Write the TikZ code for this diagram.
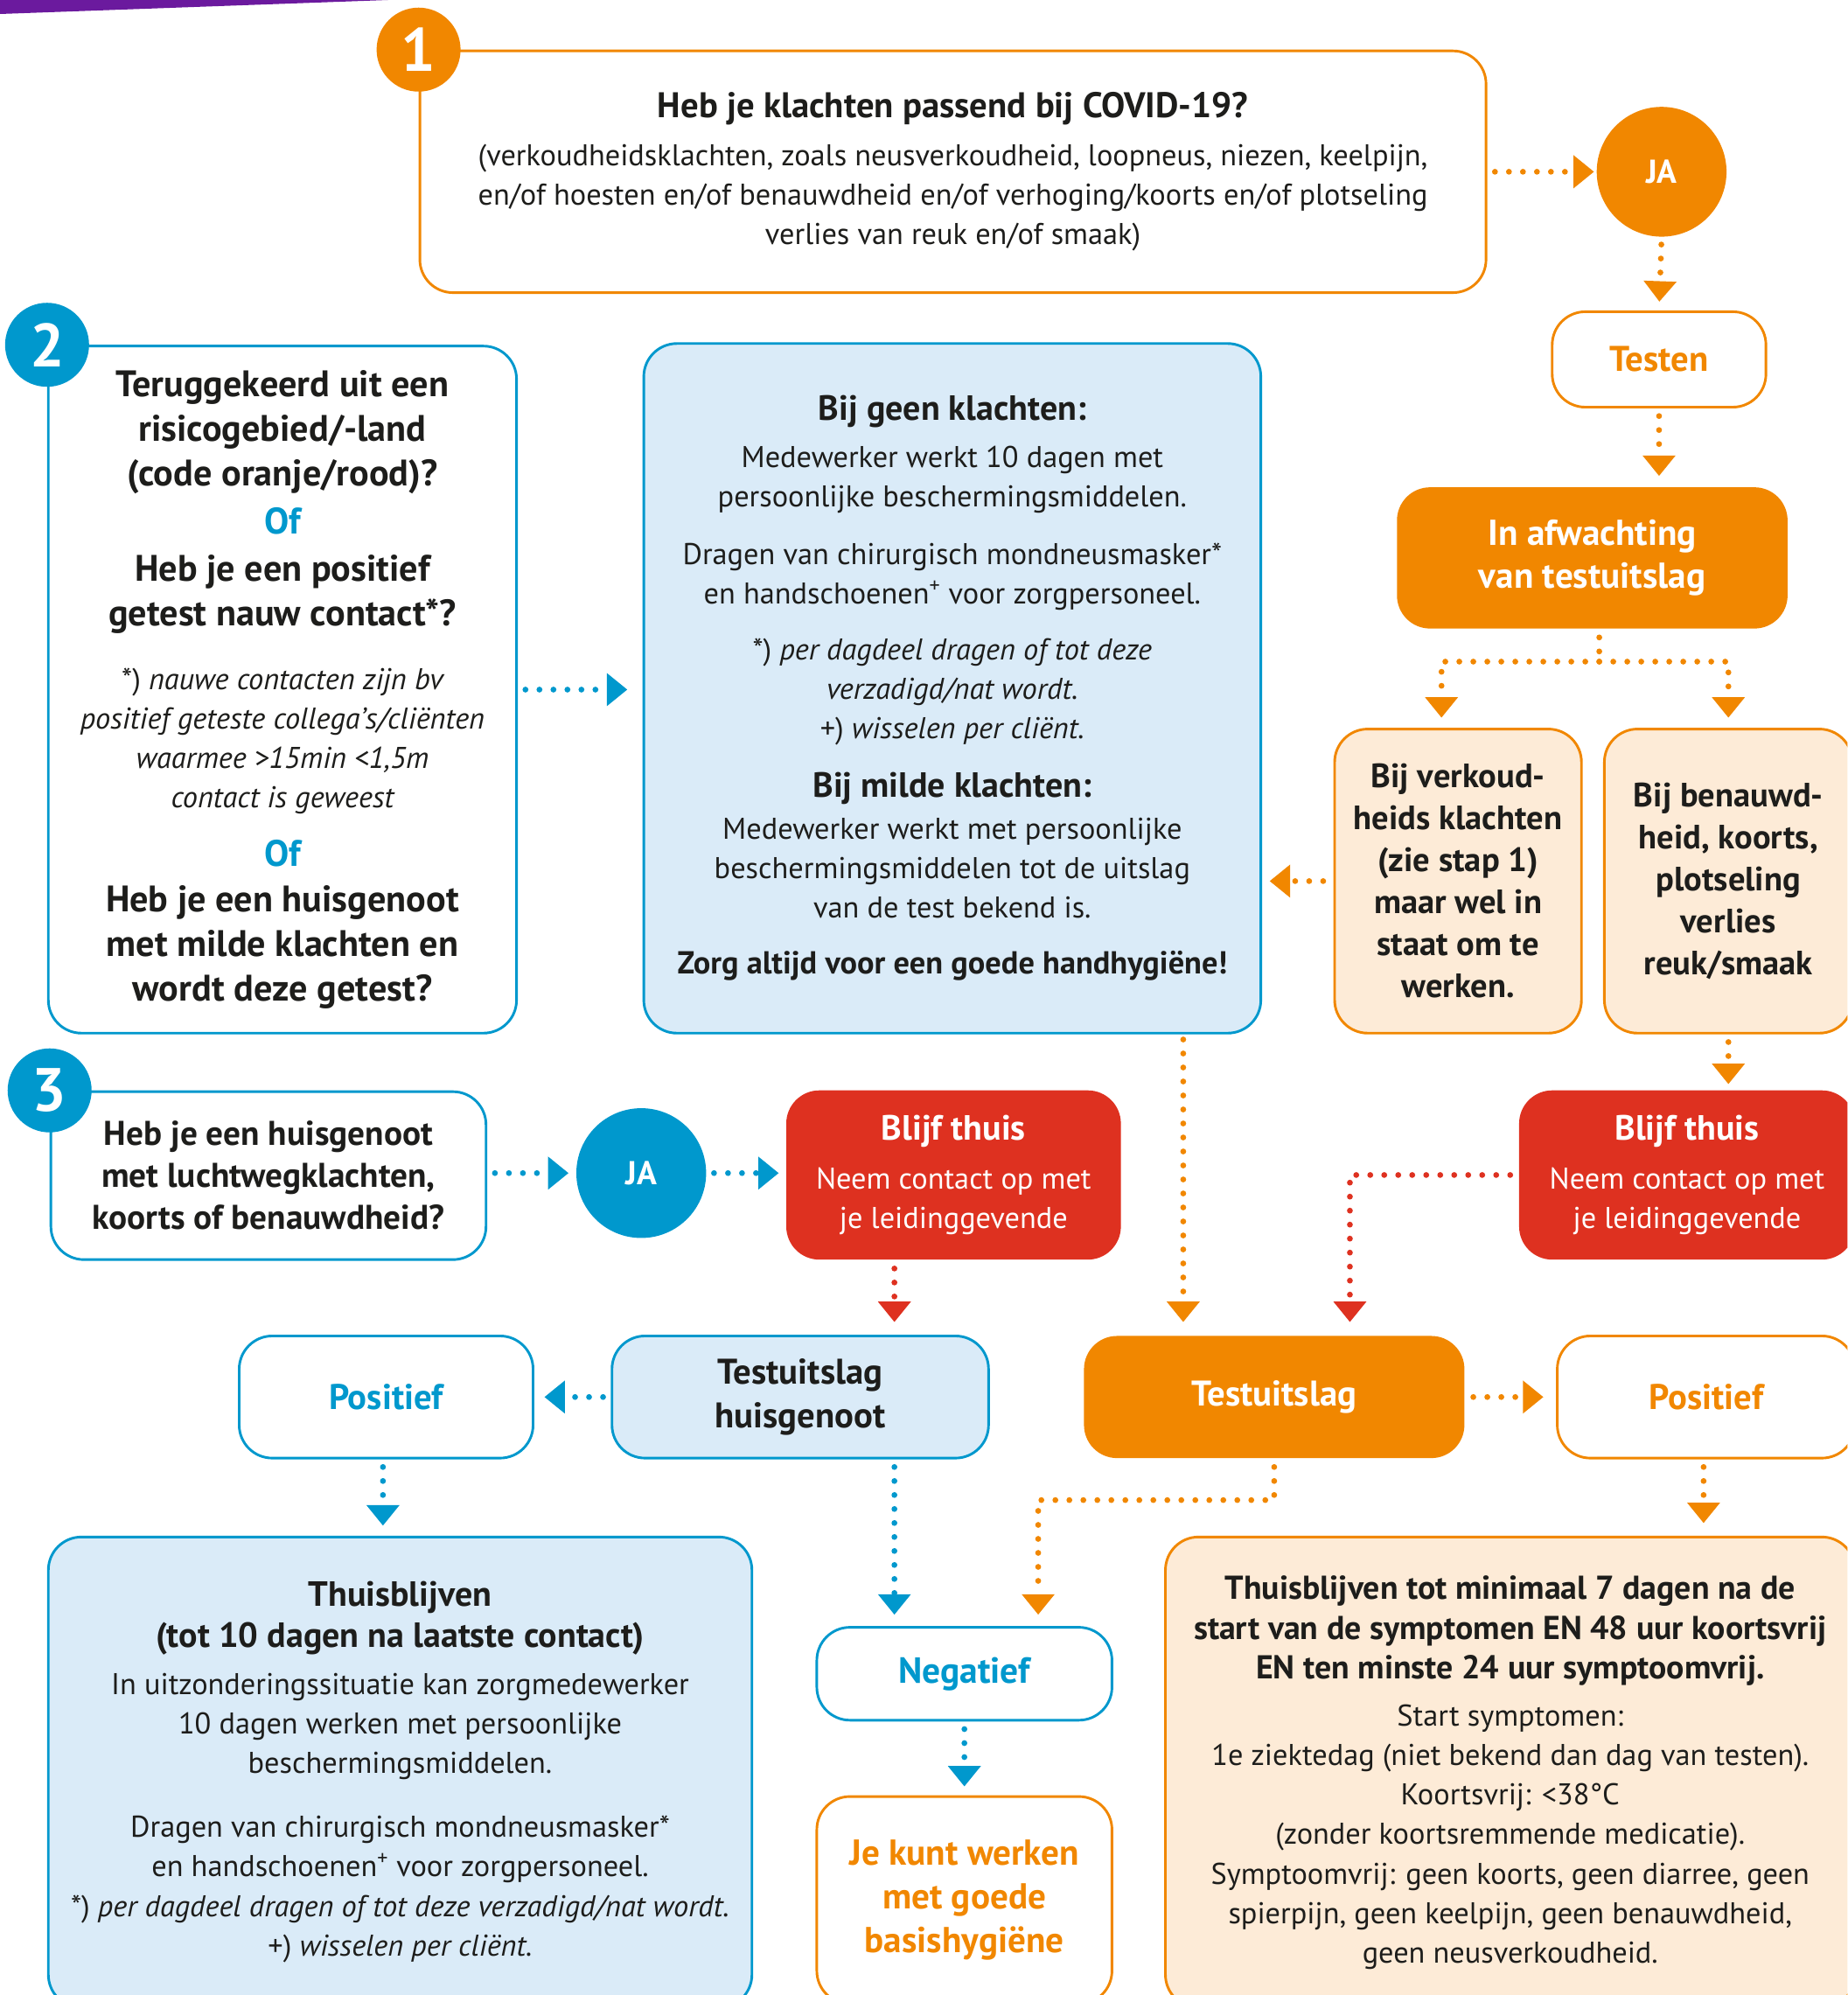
\documentclass[tikz,border=0pt]{standalone}
\usepackage{fontspec}
\setmainfont{PT Sans}
\usetikzlibrary{arrows.meta}

\definecolor{orng}{HTML}{F18700}
\definecolor{blu}{HTML}{0098CD}
\definecolor{lblu}{HTML}{DAEBF8}
\definecolor{peach}{HTML}{FDEBD7}
\definecolor{rood}{HTML}{DE3120}
\definecolor{paars}{HTML}{6B1A9E}
\definecolor{ink}{HTML}{1D1D1B}

\newcommand\bodyf{\fontsize{23.6}{31}\selectfont}
\newcommand\hd[1]{{\bfseries\fontsize{27.5}{31}\selectfont #1}}
\newcommand\note[2]{{\mdseries\fontsize{23.6}{31}\selectfont #1\itshape #2}}

\tikzset{
  card/.style={rounded corners=26pt, line width=2pt, align=center, inner sep=0pt, text=ink, font=\bodyf},
  wcard/.style={card, draw=#1, fill=white},
  lbcard/.style={card, draw=blu, fill=lblu},
  pcard/.style={card, draw=orng, fill=peach},
  scard/.style={card, fill=#1, text=white},
  num/.style={circle, fill=#1, minimum size=66pt, inner sep=0pt, text=white, font=\fontsize{48}{48}\selectfont\bfseries},
  ja/.style={circle, fill=#1, minimum size=102pt, inner sep=0pt, text=white, font=\fontsize{26}{26}\selectfont\bfseries},
  flow/.style={draw=#1, line width=4.6pt, line cap=round, dash pattern=on 0pt off 11pt,
    -{Triangle[length=16pt,width=26pt,line width=0pt]}, shorten <=6pt}
}

\begin{document}
\begin{tikzpicture}[x=1pt,y=-1pt]
\useasboundingbox (0,0) rectangle (1452,1568);
\clip (0,0) rectangle (1452,1568);

\fill[paars] (0,0) -- (305,0) -- (0,11) -- cycle;

% stap 1
\node[wcard=orng, minimum width=838pt, minimum height=190pt] (q1) at (749,135)
  {{\bfseries\fontsize{28}{31}\selectfont Heb je klachten passend bij COVID-19?}\\[7pt]
   (verkoudheidsklachten, zoals neusverkoudheid, loopneus, niezen, keelpijn,\\
   en/of hoesten en/of benauwdheid en/of verhoging/koorts en/of plotseling\\
   verlies van reuk en/of smaak)};
\node[num=orng] (n1) at (q1.north west) {1};
\node[ja=orng] (ja1) at (1306,135) {JA};
\node[wcard=orng, minimum width=168pt, minimum height=75pt, text=orng,
  font=\bfseries\fontsize{28}{31}\selectfont] (test) at (1304,282.5) {Testen};
\node[scard=orng, minimum width=307pt, minimum height=111pt,
  font=\bfseries\fontsize{28.3}{34}\selectfont] (wacht) at (1251.5,438.5) {In afwachting\\van testuitslag};
\node[pcard, minimum width=194pt, minimum height=239pt,
  font=\bfseries\fontsize{26.5}{33}\selectfont] (verk) at (1146,692.5)
  {Bij verkoud-\\heids klachten\\(zie stap 1)\\maar wel in\\staat om te\\werken.};
\node[pcard, minimum width=195pt, minimum height=239pt,
  font=\bfseries\fontsize{26.5}{33}\selectfont] (benauwd) at (1358.5,692.5)
  {Bij benauwd-\\heid, koorts,\\plotseling\\verlies\\reuk/smaak};

% stap 2
\node[wcard=blu, minimum width=368pt, minimum height=540pt,
  font=\bfseries\fontsize{29}{35}\selectfont] (q2) at (222,542)
  {Teruggekeerd uit een\\risicogebied/-land\\(code oranje/rood)?\\[3pt]
   \textcolor{blu}{Of}\\[2pt]
   Heb je een positief\\getest nauw contact*?\\[15pt]
   \note{*) }{nauwe contacten zijn bv}\\[-4pt]
   \note{}{positief geteste collega’s/cliënten}\\[-4pt]
   \note{}{waarmee >15min <1,5m}\\[-4pt]
   \note{}{contact is geweest}\\[11pt]
   \textcolor{blu}{Of}\\[1pt]
   Heb je een huisgenoot\\met milde klachten en\\wordt deze getest?};
\node[num=blu] (n2) at (q2.north west) {2};
\node[lbcard, minimum width=485pt, minimum height=542pt] (maatr) at (748.5,541)
  {\hd{Bij geen klachten:}\\[6pt]
   Medewerker werkt 10 dagen met\\
   persoonlijke beschermingsmiddelen.\\[14pt]
   Dragen van chirurgisch mondneusmasker*\\
   en handschoenen\textsuperscript{+} voor zorgpersoneel.\\[13pt]
   *) \textit{per dagdeel dragen of tot deze}\\
   \textit{verzadigd/nat wordt.}\\
   +) \textit{wisselen per cliënt.}\\[15pt]
   \hd{Bij milde klachten:}\\[2pt]
   Medewerker werkt met persoonlijke\\
   beschermingsmiddelen tot de uitslag\\
   van de test bekend is.\\[13pt]
   {\bfseries\fontsize{25}{31}\selectfont Zorg altijd voor een goede handhygiëne!}};

% stap 3
\node[wcard=blu, minimum width=342pt, minimum height=132pt,
  font=\bfseries\fontsize{27}{33}\selectfont] (q3) at (211,924)
  {Heb je een huisgenoot\\met luchtwegklachten,\\koorts of benauwdheid?};
\node[num=blu] (n3) at (q3.north west) {3};
\node[ja=blu] (ja2) at (504,922) {JA};
\node[scard=rood, minimum width=263pt, minimum height=133pt] (thuis1) at (749.5,923.5)
  {\hd{Blijf thuis}\\[8pt] Neem contact op met\\je leidinggevende};
\node[scard=rood, minimum width=264pt, minimum height=133pt] (thuis2) at (1326,923.5)
  {\hd{Blijf thuis}\\[8pt] Neem contact op met\\je leidinggevende};

% uitslagen
\node[wcard=blu, minimum width=231pt, minimum height=96pt, text=blu,
  font=\bfseries\fontsize{28}{31}\selectfont] (posB) at (303.5,1098) {Positief};
\node[lbcard, minimum width=296pt, minimum height=96pt,
  font=\bfseries\fontsize{28}{35}\selectfont] (thg) at (629,1098) {Testuitslag\\huisgenoot};
\node[scard=orng, minimum width=299pt, minimum height=96pt,
  font=\bfseries\fontsize{28}{31}\selectfont] (uitslag) at (1001.5,1098) {Testuitslag};
\node[wcard=orng, minimum width=234pt, minimum height=96pt, text=orng,
  font=\bfseries\fontsize{28}{31}\selectfont] (posO) at (1341,1098) {Positief};

\node[lbcard, minimum width=553pt, minimum height=370pt] (thuisbl) at (314.5,1393)
  {\hd{Thuisblijven}\\[1pt]
   \hd{(tot 10 dagen na laatste contact)}\\[6pt]
   In uitzonderingssituatie kan zorgmedewerker\\
   10 dagen werken met persoonlijke\\
   beschermingsmiddelen.\\[19pt]
   Dragen van chirurgisch mondneusmasker*\\
   en handschoenen\textsuperscript{+} voor zorgpersoneel.\\[1pt]
   *) \textit{per dagdeel dragen of tot deze verzadigd/nat wordt.}\\
   +) \textit{wisselen per cliënt.}};
\node[wcard=blu, minimum width=232pt, minimum height=73pt, text=blu,
  font=\bfseries\fontsize{28.5}{31}\selectfont] (neg) at (758,1315.5) {Negatief};
\node[wcard=orng, minimum width=232pt, minimum height=163pt, text=orng,
  font=\bfseries\fontsize{28.3}{34.5}\selectfont] (werk) at (758,1493.5)
  {Je kunt werken\\met goede\\basishygiëne};
\node[pcard, minimum width=542pt, minimum height=370pt] (isol) at (1187,1393)
  {{\bfseries\fontsize{26}{31}\selectfont Thuisblijven tot minimaal 7 dagen na de}\\[1pt]
   {\bfseries\fontsize{26}{31}\selectfont start van de symptomen EN 48 uur koortsvrij}\\
   {\bfseries\fontsize{26}{31}\selectfont EN ten minste 24 uur symptoomvrij.}\\[6pt]
   Start symptomen:\\
   1e ziektedag (niet bekend dan dag van testen).\\
   Koortsvrij: <38°C\\
   (zonder koortsremmende medicatie).\\
   Symptoomvrij: geen koorts, geen diarree, geen\\
   spierpijn, geen keelpijn, geen benauwdheid,\\
   geen neusverkoudheid.};

% pijlen
\draw[flow=orng, shorten >=2pt] (q1.east) -- (ja1.west);
\draw[flow=orng, shorten >=7pt] (ja1.south) -- (test.north);
\draw[flow=orng, shorten >=8pt] (test.south) -- (test.south |- wacht.north);
\coordinate (split) at (1257,520);
\draw[flow=orng, -] (wacht.south -| split) -- (split);
\draw[flow=orng, shorten <=0pt, shorten >=8pt] (split) -| ([xshift=-13pt]verk.north);
\draw[flow=orng, shorten <=0pt, shorten >=8pt] (split) -| (benauwd.north);
\draw[flow=orng, shorten <=8pt, shorten >=6pt] (verk.west) -- (maatr.east |- verk.west);
\draw[flow=orng, shorten >=4pt] (benauwd.south) -- (benauwd.south |- thuis2.north);

\draw[flow=blu, shorten >=12pt] (q2.east) -- (maatr.west |- q2.east);
\draw[flow=blu, shorten >=6pt] (q3.east |- ja2) -- (ja2.west);
\draw[flow=blu, shorten >=5pt] (ja2.east) -- (thuis1.west |- ja2.east);
\draw[flow=rood, shorten >=10pt] ([xshift=-46.5pt]thuis1.south) -- ([xshift=-46.5pt]thuis1.south |- thg.north);
\draw[flow=rood, shorten >=10pt] (thuis2.west) -| ([xshift=59.5pt]uitslag.north);
\draw[flow=orng, shorten <=4pt, shorten >=10pt] ([xshift=181.5pt]maatr.south) -- ([xshift=181.5pt]maatr.south |- uitslag.north);

\draw[flow=blu, shorten >=8pt] (thg.west) -- (posB.east);
\draw[flow=orng, shorten >=10pt] (uitslag.east) -- (posO.west);
\draw[flow=blu, shorten >=8pt] ([xshift=-2.5pt]posB.south) -- ([xshift=-2.5pt]posB.south |- thuisbl.north);
\draw[flow=blu, shorten >=9pt] ([xshift=74pt]thg.south) -- ([xshift=74pt]thg.south |- neg.north);
\coordinate (bend) at (816,1179);
\draw[flow=orng, shorten >=9pt] (uitslag.south) |- (bend) -- (bend |- neg.north);
\draw[flow=blu, shorten >=7pt] (neg.south) -- (werk.north);
\draw[flow=orng, shorten >=10pt] ([xshift=-2pt]posO.south) -- ([xshift=-2pt]posO.south |- isol.north);
\end{tikzpicture}
\end{document}
